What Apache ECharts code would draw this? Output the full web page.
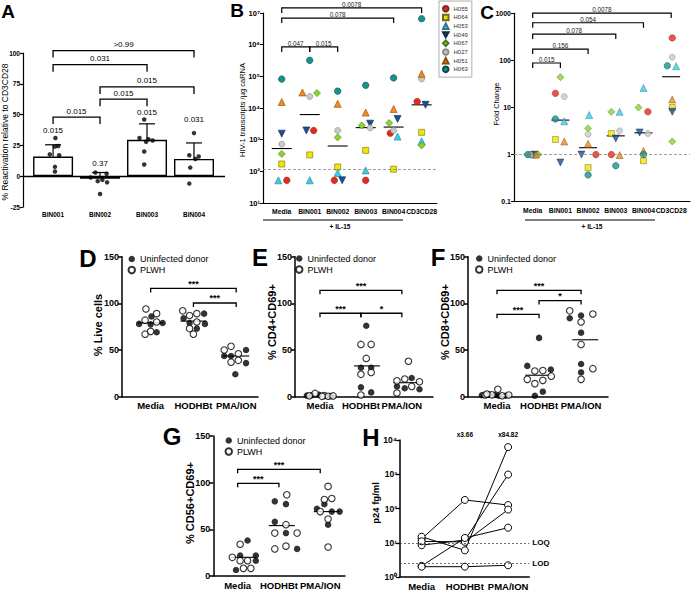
<!DOCTYPE html>
<html><head><meta charset="utf-8">
<script src="https://cdn.jsdelivr.net/npm/echarts@6/dist/echarts.min.js"></script>
<style>html,body{margin:0;padding:0;background:#fff}#c{width:696px;height:591px}</style>
</head><body><div id="c"></div>
<script>
// ================= DATA =================
// Panel A
const aCategories = ['BIN001','BIN002','BIN003','BIN004'];
const aMeans = [16, -2, 29.5, 14];
const aSD = [9.5, 5, 13, 13];
const aPoints = [[31,24,24.5,17.7,17,7.6,3.8],[3,2,-1,-3,-4,-5,-14.5],[46,31,30,29,28,20,9.5],[35,17,16,14,7,-6]];
const aJitter = [[0.05,0.04,0.11,-0.07,0.13,0.04,0.04],[-0.1,0.14,-0.2,0.05,-0.05,0.15,0],[-0.06,-0.16,0.03,0.12,-0.02,-0.06,-0.06],[0,-0.1,0.1,0.03,-0.08,-0.1]];
const aBarLabels = ['0.015','0.37','0.015','0.031'];
const aBarLabelY = [37, 10.5, 52, 46];
const aBrackets = [[1,4],[1,3],[2,4],[2,3],[1,2]];
const aBracketY = [102, 90.5, 72.5, 62.5, 48];
const aBracketLabels = ['>0.99','0.031','0.015','0.015','0.015'];

// Panels B & C
const bcCategories = ['Media','BIN001','BIN002','BIN003','BIN004','CD3CD28'];
const donors = ['H055','H064','H053','H049','H067','H027','H051','H063'];
const bValues = [
  [52, 1950, 52, 52, 1600, 16000],
  [170, 330, 137, 460, 117, 1700],
  [52, 52, 89, 107, 1250, 890],
  [1550, 1950, 52, 3200, 4500, 12600],
  [355, 29500, 1180, 2800, 3350, 660],
  [720, 23000, 1950, 2350, 1950, 83000],
  [15500, 31000, 13500, 7200, 9300, 120000],
  [82000, 320000, 34000, 52000, 89000, 6600000]
];
const bJitter = [
  [0.18,0.14,-0.12,0,-0.12,-0.16],
  [0,0,0,0,0,0],
  [-0.12,0,0,0,0.14,0],
  [0,-0.12,0.16,0.16,0.14,0.14],
  [0,0.26,0,-0.14,-0.16,0],
  [0,0,0,0.16,0,0],
  [0,-0.26,0,0,0,0],
  [0,0,0,0,0,0]
];
const bMedians = [525, 6200, 630, 2400, 2500, 12600];
const bLOQ = 115;
const bBrackets = [[0,5],[0,4],[0,1],[1,2]];
const bBracketY = [1.45e7, 6.9e6, 8.5e5, 8.5e5];
const bBracketLabels = ['0.0078','0.078','0.047','0.015'];

const cValues = [
  [1, 20, 1, 1, 8.1, 300],
  [1, 2.1, 0.53, 2.8, 0.74, 10],
  [1, 5.1, 6.9, 8.1, 26, 75],
  [1, 0.68, 1, 2.2, 2.95, 8.1],
  [1, 44, 3.6, 8.1, 10, 1.9],
  [1, 17, 2.7, 3.2, 2.8, 117],
  [1, 1.9, 1.7, 0.98, 1.2, 14.8],
  [1, 5.7, 0.37, 0.58, 1, 77]
];
const cJitter = [
  [-0.05,-0.18,0.28,-0.16,0.16,0.04],
  [0,-0.18,0,-0.16,0,0.04],
  [0.05,0.14,0.04,0.14,0,0.18],
  [0.08,0,-0.24,0,-0.14,0.04],
  [0.2,0,0,-0.16,-0.18,0.04],
  [-0.1,0.14,0,0.14,0.16,0.04],
  [0.12,0.14,0,0.14,0,0.04],
  [-0.18,-0.18,0,0,0,-0.14]
];
const cMedians = [1, 5.4, 1.4, 2.5, 2.9, 45];
const cBrackets = [[0,5],[0,4],[0,3],[0,2],[0,1]];
const cBracketY = [1010, 630, 363, 174, 88];
const cBracketLabels = ['0.0078','0.054','0.078','0.156','0.015'];

// Panels D-G
const dgCategories = ['Media','HODHBt','PMA/ION'];
const dFilled = [[86,78,77.5,79,69],[89,84,79,78,73],[43.6,43.6,50,36,24]];
const dFilledJit = [[0.02,-0.27,0,0.28,0.14],[0.25,-0.23,-0.09,0.27,0.08],[-0.28,-0.12,0.23,0.23,-0.02]];
const dHollow = [[94,89,82,80,67,70],[92,87,89,80,73,67],[50,54,46,37,39]];
const dHollowJit = [[-0.11,0.14,-0.13,0.14,-0.13,0],[-0.25,-0.09,0.08,0.08,-0.09,0],[-0.28,-0.12,0.05,-0.12,0.05]];
const dMedians = [79, 81, 43.6];
const dMedShift = [0, 0, 0];
const dBrackets = [[0,2],[1,2]];
const dBracketY = [116, 100.4];
const dBracketLabels = ['***','***'];

const eFilled = [[2,1.5,1,0.6,1.2],[76,31,31,10,4.6],[20,11,9,8]];
const eFilledJit = [[-0.02,-0.2,0.12,0.26,-0.32],[0.13,0,0.25,0,0.25],[0.24,-0.12,0.07,0.43]];
const eHollow = [[3.5,1.2,0.5,0.8,1,0.4],[56,56,41,24,26,1.8],[38,17,19,16,11,4]];
const eHollowJit = [[-0.12,0.1,0.2,0.32,-0.26,0.05],[0,0.25,0.13,0,0.25,0],[0.16,-0.12,0.07,0.43,0.24,-0.12]];
const eMedians = [1, 33, 15];
const eMedShift = [0.08, 0.15, 0.11];
const eBrackets = [[0,2],[0,1],[1,2]];
const eBracketY = [114, 89.4, 89.4];
const eBracketLabels = ['***','***','*'];

const fFilled = [[2.5,1.8,1,1,1.5],[63,33,29,5.4,1],[84,87,68.6,35,26]];
const fFilledJit = [[-0.2,-0.06,0.04,0.2,-0.36],[0,-0.28,0.28,0.09,-0.1],[-0.27,0,0,0,0]];
const fHollow = [[8,1.8,2,1,1.8,2.9],[27.5,28,22,18.6,17.5,14],[92,88.6,80,56,30,18.6]];
const fHollowJit = [[0.02,-0.28,-0.12,0.12,0.28,-0.24],[-0.1,0.09,0.29,-0.28,0.09,-0.1],[-0.27,0.28,0,0,0.28,0]];
const fMedians = [2, 23, 61];
const fMedShift = [0, -0.02, 0.1];
const fBrackets = [[0,2],[1,2],[0,1]];
const fBracketY = [114, 103, 88.3];
const fBracketLabels = ['***','*','***'];

const gFilled = [[38,22,22,16.4,6.4],[80,77,58,46,29],[72,77,69,69,55]];
const gFilledJit = [[0.24,0.06,0.44,0.44,-0.04],[-0.1,0.17,-0.1,0.17,0.44],[-0.08,0.1,0.28,0.47,0.19]];
const gHollow = [[34,20,16.4,16.4,8.2,8.2],[87,55,46,46,29,32],[96,82,83,69,61,31]];
const gHollowJit = [[0.06,-0.13,0.06,0.24,0.14,0.32],[0.19,0.17,-0.1,0.44,-0.1,0.17],[0.19,0.1,0.28,0,0.19,0.19]];
const gMedians = [20, 54, 69];
const gMedShift = [0.14, 0.07, 0.16];
const gBrackets = [[0,2],[0,1]];
const gBracketY = [114.3, 99.3];
const gBracketLabels = ['***','***'];

// Panel H
const hDonorValues = [[13,178,126],[15,6,6200],[8.5,12,980],[11,10.6,93],[2.1,13.8,27.5],[2,2,2.2]];
const hLOQ = 10, hLOD = 2.5;
const hFoldLabels = ['x3.66','x84.82'];
const hFoldX = [1, 2];
const hFoldY = [14000, 14000];

// Axis titles
const yTitles = ['% Reactivation relative to CD3CD28','HIV-1 transcripts /\u00B5g caRNA','Fold Change','% Live cells','% CD4+CD69+','% CD8+CD69+','% CD56+CD69+','p24 fg/ml'];

// ================= BUILD =================
const FONT = "'Liberation Sans', Arial, Helvetica, sans-serif";
const chart = echarts.init(document.getElementById('c'), null, {renderer:'svg', width:696, height:591});
const grids=[], xAxes=[], yAxes=[], series=[], legends=[], gfx=[];

function yLin(gi, min, max, interval, opt) {
  opt = opt || {};
  return {type:'value', gridIndex:gi, min, max, interval,
    axisLine:{show:true, onZero:false, lineStyle:{color:'#000', width:opt.lw||1.3}},
    axisTick:{show:true, length:opt.tick||4, lineStyle:{color:'#000', width:opt.lw||1.3}},
    splitLine:{show:false},
    axisLabel:{fontSize:opt.fs||9, fontWeight:'bold', color:'#000', margin:opt.margin||3}};
}
function xVal(gi, min, max, cats, opt) {
  opt = opt || {};
  const vals = cats.map((c,i)=>i+(opt.start||0));
  return {type:'value', gridIndex:gi, min, max,
    axisLine:{show:opt.line!==false, onZero:false, lineStyle:{color:'#000', width:opt.lw||1.3}},
    axisTick:{show:false}, splitLine:{show:false},
    axisLabel:{customValues:vals, showMinLabel:true, showMaxLabel:true, hideOverlap:false,
      formatter:v=>cats[Math.round(v)-(opt.start||0)], fontSize:opt.fs||10, fontWeight:'bold', color:'#000', margin:opt.margin||4}};
}
function bracketSeries(gi, pairs, ys, labels, o) {
  return {type:'custom', xAxisIndex:gi, yAxisIndex:gi, clip:false, silent:true, z:6,
    encode:{x:0, y:2},
    data: pairs.map((p,i)=>[p[0], p[1], ys[i]]),
    renderItem(params, api) {
      const p1 = api.coord([api.value(0), api.value(2)]);
      const p2 = api.coord([api.value(1), api.value(2)]);
      return {type:'group', children:[
        {type:'polyline', shape:{points:[[p1[0],p1[1]+o.drop],[p1[0],p1[1]],[p2[0],p2[1]],[p2[0],p2[1]+o.drop]]},
         style:{stroke:'#000', lineWidth:o.lw||1.2, fill:null}},
        {type:'text', x:(p1[0]+p2[0])/2, y:p1[1]-(o.gap||0), style:{text:labels[params.dataIndex], fontSize:o.fs, fontWeight:o.fw||'normal', fontFamily:FONT, fill:o.color||'#000', align:'center', verticalAlign:'bottom'}}
      ]};
    }};
}
function medianSeries(gi, vals, shifts, half) {
  return {type:'custom', xAxisIndex:gi, yAxisIndex:gi, clip:false, silent:true, z:3,
    data: vals.map((v,i)=>[i+(shifts?shifts[i]:0), v]),
    renderItem(params, api) {
      const p = api.coord([api.value(0), api.value(1)]);
      return {type:'line', shape:{x1:p[0]-half, y1:p[1], x2:p[0]+half, y2:p[1]}, style:{stroke:'#000', lineWidth:1.1}};
    }};
}
function textSeries(gi, xs, ys, labels, o) {
  return {type:'custom', xAxisIndex:gi, yAxisIndex:gi, clip:false, silent:true, z:6,
    data: xs.map((x,i)=>[x, ys[i]]),
    renderItem(params, api) {
      const p = api.coord([api.value(0), api.value(1)]);
      return {type:'text', x:p[0], y:p[1], style:{text:labels[params.dataIndex], fontSize:o.fs, fontWeight:o.fw||'normal', fontFamily:FONT, fill:'#000', align:'center', verticalAlign:'middle'}};
    }};
}
function letter(t, x, y, fs) {
  gfx.push({type:'text', x, y, style:{text:t, fontSize:fs, fontWeight:'bold', fontFamily:FONT, fill:'#000', align:'center', verticalAlign:'middle'}});
}
function yTitle(i, x, y, fs, fw) {
  gfx.push({type:'text', x, y, rotation:Math.PI/2, style:{text:yTitles[i], fontSize:fs, fontWeight:fw, fontFamily:FONT, fill:'#000', align:'center', verticalAlign:'middle'}});
}

// ---- A (grid 0)
grids.push({left:23, top:53, width:202, height:154});
xAxes.push(xVal(0, 0.36, 4.66, aCategories, {start:1, line:false, fs:6.5, margin:4}));
yAxes.push(yLin(0, -25, 100, 25, {fs:6.5, tick:3, lw:1.2}));
series.push({type:'bar', xAxisIndex:0, yAxisIndex:0, barWidth:40, z:2,
  itemStyle:{color:'#fff', borderColor:'#000', borderWidth:1.4},
  data: aMeans.map((m,i)=>[i+1, m]),
  markLine:{silent:true, symbol:'none', label:{show:false}, lineStyle:{color:'#000', width:1.3, type:'solid'}, data:[{yAxis:0}]}});
series.push({type:'custom', xAxisIndex:0, yAxisIndex:0, clip:false, silent:true, z:4,
  data: aMeans.map((m,i)=>[i+1, m, aSD[i]]),
  renderItem(params, api){
    const p0 = api.coord([api.value(0), api.value(1)]);
    const p1 = api.coord([api.value(0), api.value(1)+api.value(2)]);
    return {type:'group', children:[
      {type:'line', shape:{x1:p0[0],y1:p0[1],x2:p1[0],y2:p1[1]}, style:{stroke:'#000', lineWidth:1.2}},
      {type:'line', shape:{x1:p1[0]-8,y1:p1[1],x2:p1[0]+8,y2:p1[1]}, style:{stroke:'#000', lineWidth:1.2}}]};
  }});
series.push({type:'scatter', xAxisIndex:0, yAxisIndex:0, symbolSize:4.5, z:5,
  itemStyle:{color:'#000'},
  data: aPoints.flatMap((arr,c)=>arr.map((v,k)=>[c+1+aJitter[c][k], v]))});
series.push(bracketSeries(0, aBrackets, aBracketY, aBracketLabels, {drop:7, fs:8, gap:2, lw:1.3}));
series.push(textSeries(0, [1,2,3,4], aBarLabelY, aBarLabels, {fs:8}));
letter('A', 8, 11, 19);
yTitle(0, 5, 132, 8.5, 'normal');

// ---- B (grid 1)
const sup = {'0':'\u2070','1':'\u00B9','2':'\u00B2','3':'\u00B3','4':'\u2074','5':'\u2075','6':'\u2076','7':'\u2077'};
function logFmt(v){ const e = Math.round(Math.log10(v)); return '10' + String(e).split('').map(d=>sup[d]).join(''); }
const donorSymbols = ['circle','rect','triangle','path://M0,0L10,0L5,9Z','diamond','circle','triangle','circle'];
const donorSizes = [6.5,6,7,7,7,6,7,6.5];
const donorColors = ['#e8281e','#f2e600','#33d0e6','#1c4f91','#8dd52a','#c9c9c9','#f28a1e','#17938e'];
const donorBorders = ['#7a2a1a','#6b6b20','#2a7a88','#10284a','#4a7a20','#888','#8a4a10','#0a4a48'];

grids.push({left:263, top:13, width:174, height:190});
xAxes.push(xVal(1, -0.67, 5.55, bcCategories, {fs:6.8, margin:5, lw:1.2}));
yAxes.push({type:'log', gridIndex:1, min:10, max:1e7, logBase:10,
  axisLine:{show:true, onZero:false, lineStyle:{color:'#000', width:1.2}},
  axisTick:{show:true, length:3, lineStyle:{color:'#000'}}, minorTick:{show:false}, splitLine:{show:false},
  axisLabel:{formatter:logFmt, fontSize:7.5, fontWeight:'bold', color:'#000', margin:3}});
donors.forEach((d,i)=>{
  series.push({type:'scatter', name:d, xAxisIndex:1, yAxisIndex:1, symbol:donorSymbols[i], symbolSize:donorSizes[i], z:4,
    itemStyle:{color:donorColors[i], borderColor:donorBorders[i], borderWidth:0.6, opacity:1},
    data: bValues[i].map((v,c)=>[c+bJitter[i][c], v]),
    markLine: i===0 ? {silent:true, symbol:'none', label:{show:false}, lineStyle:{color:'#888', width:0.8, type:[3,2]}, data:[{yAxis:bLOQ}]} : undefined});
});
series.push(medianSeries(1, bMedians, null, 10));
series.push(bracketSeries(1, bBrackets, bBracketY, bBracketLabels, {drop:5, fs:6.3, gap:0.5, lw:1.2, color:'#222'}));
legends.push({left:439, top:1, orient:'vertical', padding:[4,4,4,3], itemGap:1.2, itemWidth:5.5, itemHeight:5.5,
  borderColor:'#999', borderWidth:0.8, textStyle:{fontSize:6, lineHeight:7.2, color:'#333'}, data:donors, selectedMode:false});
letter('B', 237, 10, 19);
yTitle(1, 242, 110, 7.5, 'normal');

// ---- C (grid 2)
grids.push({left:514, top:13.3, width:176, height:188.4});
xAxes.push(xVal(2, -0.675, 5.68, bcCategories, {fs:6.8, margin:5, lw:1.2}));
yAxes.push({type:'log', gridIndex:2, min:0.1, max:1000, logBase:10,
  axisLine:{show:true, onZero:false, lineStyle:{color:'#000', width:1.2}},
  axisTick:{show:true, length:3, lineStyle:{color:'#000'}}, minorTick:{show:false}, splitLine:{show:false},
  axisLabel:{formatter:v=>String(v), fontSize:7, fontWeight:'bold', color:'#000', margin:3}});
donors.forEach((d,i)=>{
  series.push({type:'scatter', name:d, xAxisIndex:2, yAxisIndex:2, symbol:donorSymbols[i], symbolSize:donorSizes[i], z:4,
    itemStyle:{color:donorColors[i], borderColor:donorBorders[i], borderWidth:0.6},
    data: cValues[i].map((v,c)=>[c+cJitter[i][c], v]),
    markLine: i===0 ? {silent:true, symbol:'none', label:{show:false}, lineStyle:{color:'#888', width:0.8, type:[3,2]}, data:[{yAxis:1}]} : undefined});
});
series.push(medianSeries(2, cMedians, null, 9));
series.push(bracketSeries(2, cBrackets, cBracketY, cBracketLabels, {drop:5, fs:6.3, gap:0.5, lw:1.2, color:'#222'}));
letter('C', 487, 12, 19);
yTitle(2, 496, 104, 7.5, 'normal');

// IL-15 annotations
[[263,403,340],[525,655,592]].forEach(a=>{
  gfx.push({type:'line', shape:{x1:a[0], y1:220, x2:a[1], y2:220}, style:{stroke:'#000', lineWidth:1}});
  gfx.push({type:'text', x:a[2], y:226, style:{text:'+ IL-15', fontSize:6.5, fontWeight:'bold', fontFamily:FONT, fill:'#000', align:'center', verticalAlign:'middle'}});
});

// ---- D-G dot plots
function dotPanel(gi, grid, xmin, xmax, filled, filledJit, hollow, hollowJit, meds, medShift, brk, brkY, brkL, legendPos) {
  grids.push(grid);
  xAxes.push(xVal(gi, xmin, xmax, dgCategories, {fs:9.5, margin:4, lw:1.5}));
  yAxes.push(yLin(gi, 0, 150, 50, {fs:9, tick:4, lw:1.5}));
  series.push({type:'scatter', name:'Uninfected donor', xAxisIndex:gi, yAxisIndex:gi, symbol:'circle', symbolSize:6.5, z:4,
    itemStyle:{color:'#000'},
    data: filled.flatMap((arr,c)=>arr.map((v,k)=>[c+filledJit[c][k], v]))});
  series.push({type:'scatter', name:'PLWH', xAxisIndex:gi, yAxisIndex:gi, symbol:'circle', symbolSize:6.5, z:4,
    itemStyle:{color:'#fff', borderColor:'#000', borderWidth:1.1},
    data: hollow.flatMap((arr,c)=>arr.map((v,k)=>[c+hollowJit[c][k], v]))});
  series.push(medianSeries(gi, meds, medShift, 13));
  series.push(bracketSeries(gi, brk, brkY, brkL, {drop:4, fs:9, fw:'bold', gap:0, lw:1.3}));
  legends.push({left:legendPos[0], top:legendPos[1], orient:'vertical', padding:0, itemGap:0, itemWidth:6.5, itemHeight:6.5,
    textStyle:{fontSize:9, lineHeight:11, color:'#000'}, data:['Uninfected donor','PLWH'], selectedMode:false});
}
dotPanel(3, {left:122, top:256.7, width:136, height:140}, -0.67, 2.51,
  dFilled, dFilledJit, dHollow, dHollowJit, dMedians, dMedShift, dBrackets, dBracketY, dBracketLabels, [127.5, 253.5]);
dotPanel(4, {left:295, top:256.7, width:138, height:140}, -0.61, 2.76,
  eFilled, eFilledJit, eHollow, eHollowJit, eMedians, eMedShift, eBrackets, eBracketY, eBracketLabels, [295, 253]);
dotPanel(5, {left:468, top:256.7, width:140, height:140}, -0.69, 2.64,
  fFilled, fFilledJit, fHollow, fHollowJit, fMedians, fMedShift, fBrackets, fBracketY, fBracketLabels, [475, 253]);
dotPanel(6, {left:213.3, top:436, width:131.7, height:140}, -0.59, 2.6,
  gFilled, gFilledJit, gHollow, gHollowJit, gMedians, gMedShift, gBrackets, gBracketY, gBracketLabels, [224.5, 435]);
letter('D', 88, 258, 24);
letter('E', 260, 257, 24);
letter('F', 438, 257, 24);
letter('G', 172, 436, 24);
yTitle(3, 97.5, 325, 11, 'bold');
yTitle(4, 271.5, 322, 11, 'bold');
yTitle(5, 445, 322, 11, 'bold');
yTitle(6, 190, 503, 11, 'bold');

// ---- H (grid 7)
grids.push({left:400, top:440, width:129.3, height:139});
xAxes.push(xVal(7, -0.5, 2.49, dgCategories, {fs:9.5, margin:4, lw:1.5}));
yAxes.push({type:'log', gridIndex:7, min:1, max:1e4, logBase:10,
  axisLine:{show:true, onZero:false, lineStyle:{color:'#000', width:1.5}},
  axisTick:{show:true, length:4, lineStyle:{color:'#000', width:1.3}}, minorTick:{show:false}, splitLine:{show:false},
  axisLabel:{formatter:logFmt, fontSize:8.5, fontWeight:'bold', color:'#000', margin:3}});
hDonorValues.forEach((vals,i)=>{
  series.push({type:'line', name:'donor'+(i+1), xAxisIndex:7, yAxisIndex:7, symbol:'circle', symbolSize:7, z:4,
    lineStyle:{color:'#000', width:1}, itemStyle:{color:'#fff', borderColor:'#000', borderWidth:1},
    data: vals.map((v,c)=>[c, v]),
    markLine: i===0 ? {silent:true, symbol:'none', lineStyle:{color:'#444', width:0.8, type:[2,2]},
      label:{show:true, position:'end', formatter:'{b}', fontSize:8, fontWeight:'bold', color:'#000', distance:3},
      data:[{yAxis:hLOQ, name:'LOQ'},{yAxis:hLOD, name:'LOD'}]} : undefined});
});
series.push(textSeries(7, hFoldX, hFoldY, hFoldLabels, {fs:6.5, fw:'bold'}));
letter('H', 371, 437, 24);
yTitle(7, 375, 503, 9.5, 'bold');

chart.setOption({animation:false, textStyle:{fontFamily:FONT}, grid:grids, xAxis:xAxes, yAxis:yAxes, series, legend:legends, graphic:{elements:gfx}});
</script></body></html>
